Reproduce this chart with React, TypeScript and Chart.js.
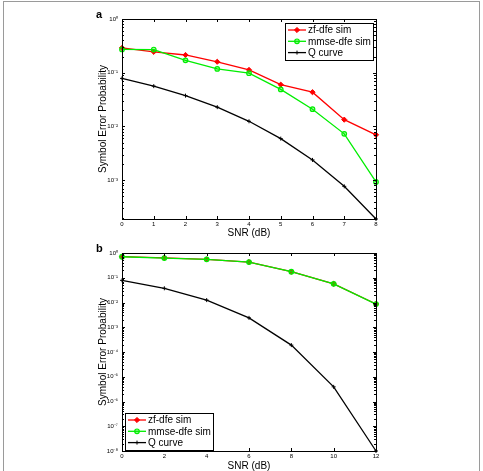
import React, { useEffect, useRef } from "react";
import { Chart, registerables } from "chart.js";
import { drawPoint } from "chart.js/helpers";

Chart.register(...registerables);

// Panel a: SNR 0..8 dB
const snrA = [0, 1, 2, 3, 4, 5, 6, 7, 8];
const zfA = [0.29, 0.245, 0.214, 0.16, 0.113, 0.06, 0.0435, 0.0134, 0.007];
const mmseA = [0.272, 0.27, 0.17, 0.118, 0.098, 0.049, 0.021, 0.0073, 0.00093];
const qA = [0.0786, 0.0563, 0.0375, 0.0229, 0.0125, 0.00595, 0.00239, 0.00077, 0.00019];

// Panel b: SNR 0..12 dB
const snrB = [0, 2, 4, 6, 8, 10, 12];
const zfB = [0.71, 0.63, 0.556, 0.43, 0.176, 0.057, 0.0087];
const mmseB = [0.705, 0.626, 0.553, 0.428, 0.175, 0.0567, 0.0086];
const qB = [0.0786, 0.0375, 0.0125, 0.00239, 0.00019, 3.9e-6, 1.0e-8];

// Axis ticks
const xTicksA = [0, 1, 2, 3, 4, 5, 6, 7, 8];
const xTicksB = [0, 2, 4, 6, 8, 10, 12];
const yDecadesA = [1, 1e-1, 1e-2, 1e-3];
const yDecadesB = [1, 1e-1, 1e-2, 1e-3, 1e-4, 1e-5, 1e-6, 1e-7, 1e-8];

const seriesNames = ["zf-dfe sim", "mmse-dfe sim", "Q curve"];

const FONT = '"Liberation Sans", Arial, Helvetica, sans-serif';
const RED = "#ff0000";
const GREEN = "#00ee00";
const BLACK = "#000000";

const SUP: Record<string, string> = {
  "0": "\u2070", "1": "\u00b9", "2": "\u00b2", "3": "\u00b3", "4": "\u2074",
  "5": "\u2075", "6": "\u2076", "7": "\u2077", "8": "\u2078", "9": "\u2079", "-": "\u207b",
};
const decadeLabel = (v: number) =>
  "10" + String(Math.round(Math.log10(v))).split("").map((c) => SUP[c] ?? c).join("");

const toPoints = (xs: number[], ys: number[]) => xs.map((x, i) => ({ x, y: ys[i] }));

// Full box around the plot area with inward major/minor ticks on all four sides
const axesBox = {
  id: "axesBox",
  afterDatasetsDraw(chart: any) {
    const { ctx, chartArea, scales } = chart;
    const { left, right, top, bottom } = chartArea;
    const x = scales.x;
    const y = scales.y;
    ctx.save();
    ctx.strokeStyle = "#000";
    ctx.lineWidth = 1;
    ctx.beginPath();
    for (const t of x.ticks) {
      const px = Math.round(x.getPixelForValue(t.value)) + 0.5;
      ctx.moveTo(px, bottom);
      ctx.lineTo(px, bottom - 3);
      ctx.moveTo(px, top);
      ctx.lineTo(px, top + 3);
    }
    const lo = Math.floor(Math.log10(y.min));
    const hi = Math.ceil(Math.log10(y.max));
    for (let k = lo; k <= hi; k++) {
      for (let m = 1; m <= 9; m++) {
        const v = m * Math.pow(10, k);
        if (v < y.min * 0.999 || v > y.max * 1.001) continue;
        const py = Math.round(y.getPixelForValue(v)) + 0.5;
        const len = m === 1 ? 3 : 2;
        ctx.moveTo(left, py);
        ctx.lineTo(left + len, py);
        ctx.moveTo(right, py);
        ctx.lineTo(right - len, py);
      }
    }
    ctx.stroke();
    ctx.strokeRect(Math.round(left) + 0.5, Math.round(top) + 0.5, Math.round(right - left), Math.round(bottom - top));
    ctx.restore();
  },
};

// Boxed legend placed inside the plot area
const insetLegend = {
  id: "insetLegend",
  afterDraw(chart: any, _args: any, opts: any) {
    const { ctx, chartArea } = chart;
    const items = chart.data.datasets;
    ctx.save();
    ctx.font = `10px ${FONT}`;
    const textW = Math.max(...items.map((d: any) => ctx.measureText(d.label).width));
    const rowH = 11.3;
    const w = Math.round(23 + textW + 2);
    const h = Math.round(14 + rowH * (items.length - 1));
    let x0: number;
    let y0: number;
    if (opts.corner === "topRight") {
      x0 = Math.round(chartArea.right - 3 - w);
      y0 = Math.round(chartArea.top + 4);
    } else {
      x0 = Math.round(chartArea.left + 3);
      y0 = Math.round(chartArea.bottom - 1 - h);
    }
    ctx.fillStyle = "#fff";
    ctx.fillRect(x0, y0, w, h);
    ctx.strokeStyle = "#000";
    ctx.lineWidth = 1;
    ctx.strokeRect(x0 + 0.5, y0 + 0.5, w, h);
    items.forEach((d: any, i: number) => {
      const cy = y0 + 7 + i * rowH;
      ctx.strokeStyle = d.borderColor;
      ctx.lineWidth = d.borderWidth;
      ctx.beginPath();
      ctx.moveTo(x0 + 3, cy);
      ctx.lineTo(x0 + 21, cy);
      ctx.stroke();
      ctx.fillStyle = d.pointBackgroundColor;
      ctx.strokeStyle = d.pointBorderColor;
      ctx.lineWidth = d.pointBorderWidth;
      drawPoint(ctx, { pointStyle: d.pointStyle, radius: d.pointRadius, rotation: 0, borderWidth: d.pointBorderWidth }, x0 + 12, cy);
      ctx.fillStyle = "#000";
      ctx.textBaseline = "middle";
      ctx.textAlign = "left";
      ctx.fillText(d.label, x0 + 23, cy + 0.5);
    });
    ctx.restore();
  },
};

// Bold panel letter
const panelTag = {
  id: "panelTag",
  afterDraw(chart: any, _args: any, opts: any) {
    const { ctx } = chart;
    ctx.save();
    ctx.font = `bold 11px ${FONT}`;
    ctx.fillStyle = "#000";
    ctx.textBaseline = "alphabetic";
    ctx.fillText(opts.text, opts.x, opts.y);
    ctx.restore();
  },
};

function makeDatasets(xs: number[], zf: number[], mmse: number[], q: number[]) {
  return [
    {
      label: seriesNames[0],
      data: toPoints(xs, zf),
      borderColor: RED,
      backgroundColor: RED,
      borderWidth: 1.3,
      pointStyle: "rectRot",
      pointRadius: 2.6,
      pointBackgroundColor: RED,
      pointBorderColor: RED,
      pointBorderWidth: 1,
      order: 3,
      clip: false as any,
    },
    {
      label: seriesNames[1],
      data: toPoints(xs, mmse),
      borderColor: GREEN,
      backgroundColor: GREEN,
      borderWidth: 1.3,
      pointStyle: "circle",
      pointRadius: 2.3,
      pointBackgroundColor: "rgba(0,238,0,0.35)",
      pointBorderColor: GREEN,
      pointBorderWidth: 1.2,
      order: 2,
      clip: false as any,
    },
    {
      label: seriesNames[2],
      data: toPoints(xs, q),
      borderColor: BLACK,
      backgroundColor: BLACK,
      borderWidth: 1.3,
      pointStyle: "cross",
      pointRadius: 2,
      pointBackgroundColor: BLACK,
      pointBorderColor: BLACK,
      pointBorderWidth: 1,
      order: 1,
      clip: false as any,
    },
  ];
}

function makeOptions(p: {
  xMax: number; xTicks: number[]; yMin: number; yDecades: number[];
  padTop: number; xHeight: number; titlePadBottom: number; xTickPad: number;
  legendCorner: string; tag: { text: string; x: number; y: number };
}): any {
  return {
    responsive: false,
    animation: false,
    events: [],
    layout: { padding: { left: 96, top: p.padTop, right: 107, bottom: 0 } },
    plugins: {
      legend: { display: false },
      tooltip: { enabled: false },
      insetLegend: { corner: p.legendCorner },
      panelTag: p.tag,
    },
    scales: {
      x: {
        type: "linear",
        min: 0,
        max: p.xMax,
        afterBuildTicks: (s: any) => { s.ticks = p.xTicks.map((v) => ({ value: v })); },
        afterFit: (s: any) => { s.height = p.xHeight; },
        grid: { display: false, drawTicks: false },
        border: { display: false },
        ticks: { color: "#000", font: { family: FONT, size: 6 }, padding: p.xTickPad, maxRotation: 0, autoSkip: false },
        title: {
          display: true,
          text: "SNR (dB)",
          color: "#000",
          font: { family: FONT, size: 10, lineHeight: 1 },
          padding: { top: 0, bottom: p.titlePadBottom },
        },
      },
      y: {
        type: "logarithmic",
        min: p.yMin,
        max: 1,
        afterBuildTicks: (s: any) => { s.ticks = p.yDecades.map((v) => ({ value: v })); },
        afterFit: (s: any) => { s.width = 26; },
        grid: { display: false, drawTicks: false },
        border: { display: false },
        ticks: {
          color: "#000",
          font: { family: FONT, size: 6 },
          padding: 4,
          autoSkip: false,
          callback: (v: any) => decadeLabel(Number(v)),
        },
        title: {
          display: true,
          text: "Symbol Error Probability",
          color: "#000",
          font: { family: FONT, size: 10, lineHeight: 1 },
          padding: { top: 2, bottom: 0 },
        },
      },
    },
  };
}

export default function App() {
  const refA = useRef<HTMLCanvasElement>(null);
  const refB = useRef<HTMLCanvasElement>(null);

  useEffect(() => {
    const chartA = new Chart(refA.current!, {
      type: "line",
      data: { datasets: makeDatasets(snrA, zfA, mmseA, qA) as any },
      options: makeOptions({
        xMax: 8, xTicks: xTicksA, yMin: Math.min(...qA), yDecades: yDecadesA,
        padTop: 19, xHeight: 21, titlePadBottom: 2, xTickPad: 2,
        legendCorner: "topRight", tag: { text: "a", x: 96, y: 17.5 },
      }),
      plugins: [axesBox, insetLegend, panelTag],
    });
    const chartB = new Chart(refB.current!, {
      type: "line",
      data: { datasets: makeDatasets(snrB, zfB, mmseB, qB) as any },
      options: makeOptions({
        xMax: 12, xTicks: xTicksB, yMin: Math.min(...qB), yDecades: yDecadesB,
        padTop: 13, xHeight: 20, titlePadBottom: 0, xTickPad: 2,
        legendCorner: "bottomLeft", tag: { text: "b", x: 96, y: 12 },
      }),
      plugins: [axesBox, insetLegend, panelTag],
    });
    return () => {
      chartA.destroy();
      chartB.destroy();
    };
  }, []);

  return (
    <div style={{ position: "fixed", left: 0, top: 0, width: 483, height: 471, background: "#fff", overflow: "hidden" }}>
      <canvas ref={refA} width={483} height={240} style={{ position: "absolute", left: 0, top: 0 }} />
      <canvas ref={refB} width={483} height={231} style={{ position: "absolute", left: 0, top: 240 }} />
      <div
        style={{
          position: "absolute", left: 3, top: 1, width: 477, height: 480,
          border: "1px solid #9a9a9a", boxSizing: "border-box", pointerEvents: "none",
        }}
      />
    </div>
  );
}
